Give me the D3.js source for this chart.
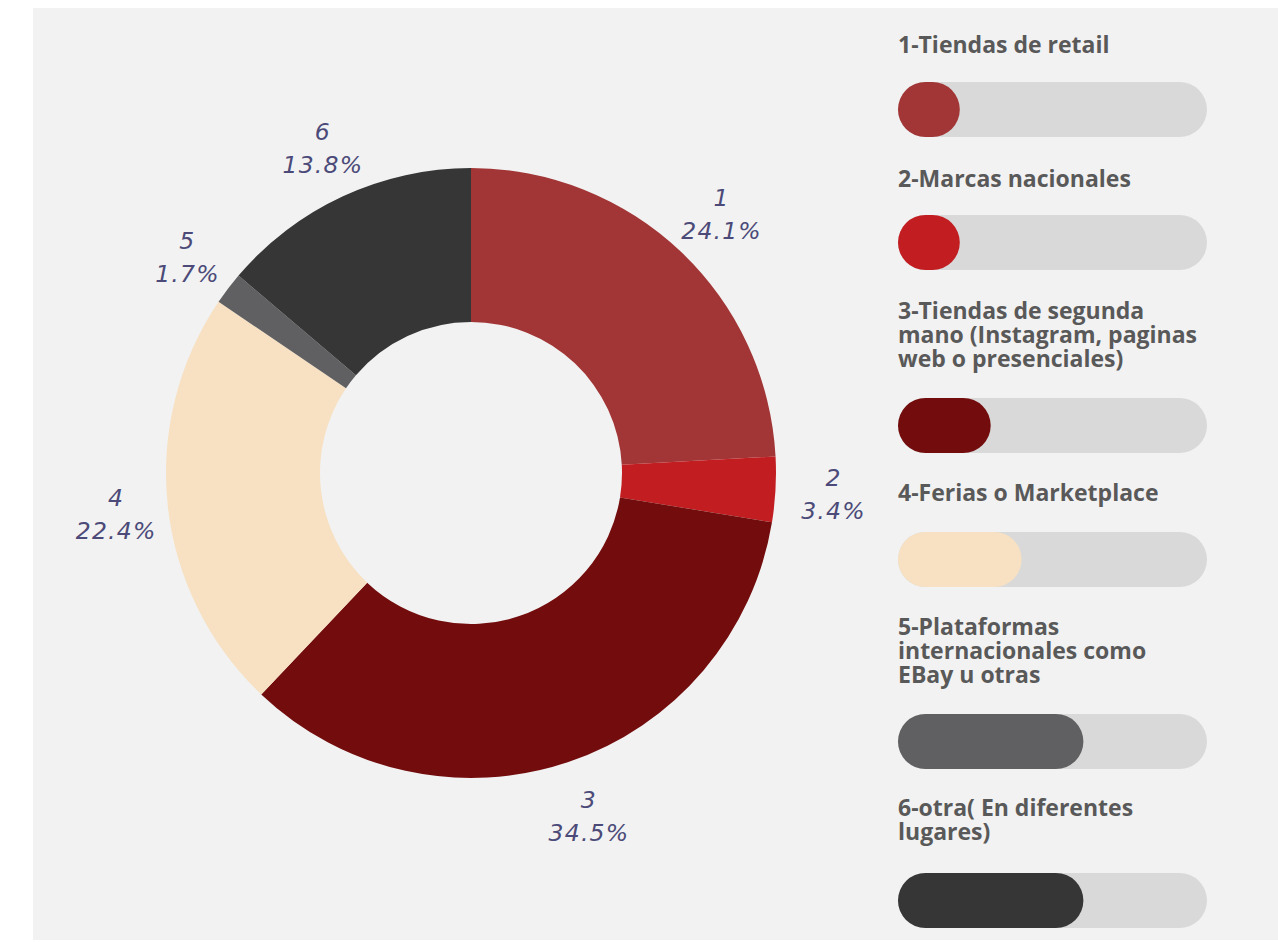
<!DOCTYPE html>
<html>
<head>
<meta charset="utf-8">
<script src="https://cdn.jsdelivr.net/npm/d3@7"></script>
<style>
  html, body { margin: 0; padding: 0; background: #ffffff; }
  svg { display: block; }
</style>
</head>
<body>
<div id="chart"></div>
<script>
// Data (counts out of 58 respondents)
var categories = ["1", "2", "3", "4", "5", "6"];
var counts = [14, 2, 20, 13, 1, 8];
var percentLabels = ["24.1%", "3.4%", "34.5%", "22.4%", "1.7%", "13.8%"];
var legendLabels = [
    ["1-Tiendas de retail"],
    ["2-Marcas nacionales"],
    ["3-Tiendas de segunda", "mano (Instagram, paginas", "web o presenciales)"],
    ["4-Ferias o Marketplace"],
    ["5-Plataformas", "internacionales como", "EBay u otras"],
    ["6-otra( En diferentes", "lugares)"]
];
// decorative fill of the legend pills, as drawn
var legendFill = [0.2, 0.2, 0.3, 0.4, 0.6, 0.6];

var width = 1278, height = 942;
var colors = ["#a23535", "#c21e22", "#730d0d", "#f7e1c2", "#606062", "#363636"];

var svg = d3.select("#chart")
    .append("svg")
    .attr("width", width)
    .attr("height", height);

// panel background
svg.append("rect")
    .attr("x", 33).attr("y", 8)
    .attr("width", width - 33).attr("height", 932)
    .attr("fill", "#f2f2f2");

// Donut
var cx = 471, cy = 473,
    outerRadius = 305,
    innerRadius = 151,
    labelRadius = 360;

var pie = d3.pie().sort(null).value(function (d) { return d; });
var arc = d3.arc().innerRadius(innerRadius).outerRadius(outerRadius);
var labelArc = d3.arc().innerRadius(labelRadius).outerRadius(labelRadius);

var g = svg.append("g")
    .attr("transform", "translate(" + cx + "," + cy + ")");

var slices = g.selectAll(".slice")
    .data(pie(counts))
    .enter().append("g")
    .attr("class", "slice");

slices.append("path")
    .attr("d", arc)
    .attr("fill", function (d, i) { return colors[i]; });

var labels = slices.append("text")
    .attr("transform", function (d) {
        var p = labelArc.centroid(d);
        return "translate(" + (p[0] + 3) + "," + p[1] + ")";
    })
    .attr("text-anchor", "middle")
    .style("font-family", "'DejaVu Sans', sans-serif")
    .style("font-style", "italic")
    .style("font-size", "23.5px")
    .style("letter-spacing", "1.2px")
    .style("fill", "#4b4a78");

labels.append("tspan")
    .attr("x", 0).attr("y", -6)
    .text(function (d, i) { return categories[i]; });
labels.append("tspan")
    .attr("x", 0).attr("y", 27)
    .text(function (d, i) { return percentLabels[i]; });

// Legend
var legendX = 898,
    trackWidth = 309,
    trackHeight = 55,
    lineHeight = 24;
var textTops = [53, 187, 319, 501, 635, 816];   // first baseline of each entry
var barTops = [82, 215, 398, 532, 714, 873];

var fillScale = d3.scaleLinear().domain([0, 1]).range([0, trackWidth]);

var legend = svg.append("g").attr("class", "legend");

var item = legend.selectAll(".item")
    .data(legendLabels)
    .enter().append("g")
    .attr("class", "item");

item.append("text")
    .attr("x", legendX)
    .attr("y", function (d, i) { return textTops[i]; })
    .style("font-family", "'Open Sans', sans-serif")
    .style("font-weight", "700")
    .style("font-size", "23px")
    .style("fill", "#595959")
    .selectAll("tspan")
    .data(function (d) { return d; })
    .enter().append("tspan")
    .attr("x", legendX)
    .attr("dy", function (d, j) { return j === 0 ? 0 : lineHeight; })
    .text(function (d) { return d; });

item.append("rect")
    .attr("x", legendX)
    .attr("y", function (d, i) { return barTops[i]; })
    .attr("width", trackWidth)
    .attr("height", trackHeight)
    .attr("rx", trackHeight / 2)
    .attr("fill", "#d9d9d9");

item.append("rect")
    .attr("x", legendX)
    .attr("y", function (d, i) { return barTops[i]; })
    .attr("width", function (d, i) { return Math.max(trackHeight * 1.1, fillScale(legendFill[i])); })
    .attr("height", trackHeight)
    .attr("rx", trackHeight / 2)
    .attr("fill", function (d, i) { return colors[i]; });
</script>
</body>
</html>
